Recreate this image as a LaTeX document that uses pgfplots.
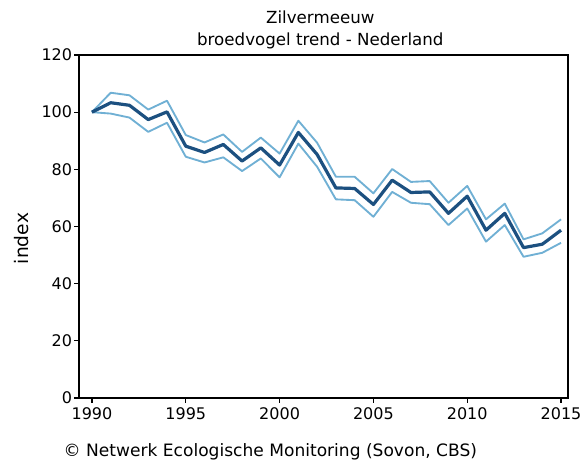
\documentclass[border=0pt]{standalone}
\usepackage{fontspec}
\setmainfont{DejaVu Sans}
\usepackage{pgfplots}
\pgfplotsset{compat=1.18}
\definecolor{trendmain}{RGB}{28,80,128}
\definecolor{trendband}{RGB}{112,176,212}
\newcommand{\chartfont}{\fontsize{12}{16.5}\selectfont}

\begin{document}
\begin{tikzpicture}
% page = 583 x 466 px at 0.75pt per px, plot box south west at origin
\useasboundingbox (-59.25pt,-51pt) rectangle (378pt,298.5pt);
\begin{axis}[
    at={(0,0)}, anchor=south west,
    scale only axis,
    width=366.75pt, height=257.25pt,
    xmin=1989.31, xmax=2015.37,
    ymin=0, ymax=120,
    xtick={1990,1995,...,2015},
    ytick={0,20,...,120},
    tick align=outside,
    xtick pos=bottom, ytick pos=left,
    major tick length=3.5pt,
    axis line style={line width=1.1pt},
    every tick/.style={black, line width=0.9pt},
    tick label style={font=\chartfont},
    yticklabel style={inner xsep=1.5pt},
    /pgf/number format/1000 sep={},
    /pgf/number format/assume math mode=true,
    ylabel={index},
    ylabel style={font=\fontsize{14}{16}\selectfont, at={(axis description cs:-0.117,0.465)}, anchor=center},
    clip=false,
]
% upper bound
\addplot[trendband, line width=1.4pt, line join=round] coordinates {
(1990,100)(1991,106.8)(1992,105.9)(1993,100.9)(1994,104)(1995,92)
(1996,89.4)(1997,92.2)(1998,86.1)(1999,91.1)(2000,85.5)(2001,97)
(2002,89.3)(2003,77.4)(2004,77.4)(2005,71.6)(2006,80.1)(2007,75.6)
(2008,75.9)(2009,68.3)(2010,74.2)(2011,62.5)(2012,68)(2013,55.5)
(2014,57.6)(2015,62.5)};
% lower bound
\addplot[trendband, line width=1.4pt, line join=round] coordinates {
(1990,100)(1991,99.5)(1992,98.1)(1993,93.1)(1994,96.3)(1995,84.4)
(1996,82.4)(1997,84.2)(1998,79.4)(1999,83.8)(2000,77.2)(2001,89)
(2002,80.9)(2003,69.5)(2004,69.2)(2005,63.4)(2006,72.1)(2007,68.3)
(2008,67.8)(2009,60.5)(2010,66.3)(2011,54.7)(2012,60.5)(2013,49.4)
(2014,50.8)(2015,54.3)};
% index
\addplot[trendmain, line width=2.4pt, line join=round] coordinates {
(1990,100)(1991,103.3)(1992,102.4)(1993,97.4)(1994,100.1)(1995,88.1)
(1996,85.9)(1997,88.7)(1998,82.9)(1999,87.5)(2000,81.5)(2001,92.9)
(2002,85.2)(2003,73.5)(2004,73.3)(2005,67.7)(2006,76.2)(2007,71.9)
(2008,72.1)(2009,64.6)(2010,70.6)(2011,58.7)(2012,64.6)(2013,52.6)
(2014,53.8)(2015,58.7)};
\end{axis}
\node[font=\fontsize{12.5}{16.5}\selectfont, anchor=base] at (181pt,23.25pt+257.25pt) {Zilvermeeuw};
\node[font=\fontsize{12.5}{16.5}\selectfont, anchor=base] at (181pt,6.75pt+257.25pt) {broedvogel trend - Nederland};
\node[font=\fontsize{12.8}{16.5}\selectfont, anchor=base west] at (-15pt,-44pt) {© Netwerk Ecologische Monitoring (Sovon, CBS)};
\end{tikzpicture}
\end{document}
